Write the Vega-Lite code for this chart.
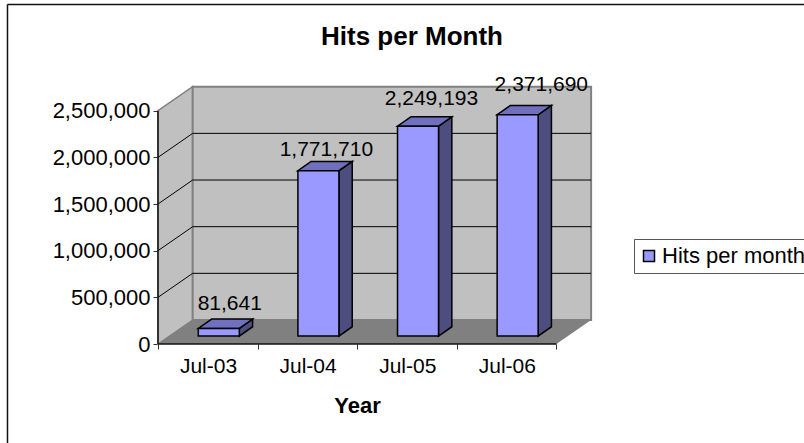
{
"$schema":"https://vega.github.io/schema/vega-lite/v6.json",
"width":434,"height":257,
"autosize":{"type":"none"},
"padding":{"left":158,"top":87,"right":212,"bottom":99},
"background":"white",
"title":{"text":"Hits per Month","anchor":"middle","frame":"group","dx":37,"offset":-46,"fontSize":26,"font":"Liberation Sans","fontWeight":"bold","color":"black"},
"config":{"view":{"stroke":null},"font":"Liberation Sans"},
"datasets":{
"bars":[
{"month":"Jul-03","hits":81641,"series":"Hits per month"},
{"month":"Jul-04","hits":1771710,"series":"Hits per month"},
{"month":"Jul-05","hits":2249193,"series":"Hits per month"},
{"month":"Jul-06","hits":2371690,"series":"Hits per month"}],
"levels":[{"level":500000},{"level":1000000},{"level":1500000},{"level":2000000}],
"wallEnds":[{"t":0},{"t":1}]
},
"layer":[
{"data":{"name":"wallEnds"},"transform":[{"calculate":"datum.t*0.348","as":"x"},{"calculate":"datum.t*257180","as":"y0"},{"calculate":"2500000+datum.t*257180","as":"y1"}],
"mark":{"type":"area","fill":"#C0C0C0","stroke":"#808080","strokeWidth":1.5,"orient":"vertical"},
"encoding":{"x":{"field":"x","type":"quantitative","scale":{"domain":[0,4.357],"nice":false,"zero":false}, 
"axis":{"values":[0,1,2,3,4],"title":"Year","grid":false,"domain":false,"tickColor":"#333333","tickSize":5,"tickWidth":1,"labelExpr":"['Jul-03','Jul-04','Jul-05','Jul-06',''][datum.value]","labelOffset":50,"labelFontSize":21,"labelColor":"black","labelFont":"Liberation Sans","labelPadding":6,"labelOverlap":false,"labelFlush":false,"labelBound":false,"labelAngle":0,"titleFontSize":22,"titleFont":"Liberation Sans","titleFontWeight":"bold","titleColor":"black","titleX":199,"titleY":68,"titleBaseline":"alphabetic"}},
"y":{"field":"y0","type":"quantitative","stack":null,"scale":{"domain":[0,2754000],"nice":false,"zero":false},
"axis":{"values":[0,500000,1000000,1500000,2000000,2500000],"format":",d","title":null,"grid":false,"domain":false,"tickColor":"#333333","tickSize":5,"tickWidth":1,"labelFontSize":22,"labelColor":"black","labelFont":"Liberation Sans","labelPadding":3,"labelOverlap":false,"labelFlush":false,"labelBound":false}},
"y2":{"field":"y1"}}},
{"data":{"values":[{"a":0.348,"b":4.348,"c":257180,"d":2757180}]},
"mark":{"type":"rect","fill":"#C0C0C0","stroke":"#808080","strokeWidth":2},
"encoding":{"x":{"field":"a","type":"quantitative","scale":{"domain":[0,4.357],"nice":false,"zero":false}},"x2":{"field":"b"},
"y":{"field":"c","type":"quantitative","scale":{"domain":[0,2754000],"nice":false,"zero":false}},"y2":{"field":"d"}}},
{"data":{"name":"wallEnds"},"transform":[{"calculate":"datum.t*257180","as":"y"},{"calculate":"datum.t*0.348","as":"x0"},{"calculate":"4+datum.t*0.348","as":"x1"}],
"mark":{"type":"area","fill":"#808080","orient":"horizontal"},
"encoding":{"y":{"field":"y","type":"quantitative","stack":null,"scale":{"domain":[0,2754000],"nice":false,"zero":false}},
"x":{"field":"x0","type":"quantitative","scale":{"domain":[0,4.357],"nice":false,"zero":false}},"x2":{"field":"x1"}}},
{"data":{"name":"levels"},"transform":[{"calculate":"datum.level+257180","as":"back"},{"calculate":"0.348","as":"a"},{"calculate":"4.348","as":"b"}],
"mark":{"type":"rule","color":"#000000","strokeWidth":1},
"encoding":{"y":{"field":"back","type":"quantitative","scale":{"domain":[0,2754000],"nice":false,"zero":false}},
"x":{"field":"a","type":"quantitative","scale":{"domain":[0,4.357],"nice":false,"zero":false}},"x2":{"field":"b"}}},
{"data":{"name":"levels"},"transform":[{"calculate":"datum.level+257180","as":"back"},{"calculate":"0","as":"a"},{"calculate":"0.348","as":"b"}],
"mark":{"type":"rule","color":"#000000","strokeWidth":1},
"encoding":{"y":{"field":"level","type":"quantitative","scale":{"domain":[0,2754000],"nice":false,"zero":false}},"y2":{"field":"back"},
"x":{"field":"a","type":"quantitative","scale":{"domain":[0,4.357],"nice":false,"zero":false}},"x2":{"field":"b"}}},
{"data":{"values":[{"a":0,"b":0,"c":0,"d":2500000},{"a":0,"b":4,"c":0,"d":0},{"a":-1.511,"b":6.49,"c":3638000,"d":3638000},{"a":-1.511,"b":-1.511,"c":3638000,"d":-1061000}]},
"mark":{"type":"rule","color":"#111111","strokeWidth":1.5},
"encoding":{"x":{"field":"a","type":"quantitative","scale":{"domain":[0,4.357],"nice":false,"zero":false}},"x2":{"field":"b"},
"y":{"field":"c","type":"quantitative","scale":{"domain":[0,2754000],"nice":false,"zero":false}},"y2":{"field":"d"}}},
{"data":{"name":"bars"},"transform":[{"calculate":"indexof(['Jul-03','Jul-04','Jul-05','Jul-06'],datum.month)","as":"i"},{"calculate":"[0,1]","as":"t"},{"flatten":["t"]},
{"calculate":"datum.i+0.8163+datum.t*0.1335","as":"x"},{"calculate":"85000+datum.t*100000","as":"y0"},{"calculate":"datum.hits+85000+datum.t*100000","as":"y1"}],
"mark":{"type":"area","fill":"#4D4D80","stroke":"#000000","strokeWidth":1.5,"orient":"vertical"},
"encoding":{"detail":{"field":"month"},"x":{"field":"x","type":"quantitative","scale":{"domain":[0,4.357],"nice":false,"zero":false}},
"y":{"field":"y0","type":"quantitative","stack":null,"scale":{"domain":[0,2754000],"nice":false,"zero":false}},"y2":{"field":"y1"}}},
{"data":{"name":"bars"},"transform":[{"calculate":"indexof(['Jul-03','Jul-04','Jul-05','Jul-06'],datum.month)","as":"i"},{"calculate":"[0,1]","as":"t"},{"flatten":["t"]},
{"calculate":"datum.i+0.4046+datum.t*0.1335","as":"x0"},{"calculate":"datum.i+0.8163+datum.t*0.1335","as":"x1"},{"calculate":"datum.hits+85000+datum.t*100000","as":"y"}],
"mark":{"type":"area","fill":"#7070BF","stroke":"#000000","strokeWidth":1.5,"orient":"horizontal"},
"encoding":{"detail":{"field":"month"},"y":{"field":"y","type":"quantitative","stack":null,"scale":{"domain":[0,2754000],"nice":false,"zero":false}},
"x":{"field":"x0","type":"quantitative","scale":{"domain":[0,4.357],"nice":false,"zero":false}},"x2":{"field":"x1"}}},
{"data":{"name":"bars"},"transform":[{"calculate":"indexof(['Jul-03','Jul-04','Jul-05','Jul-06'],datum.month)","as":"i"},
{"calculate":"datum.i+0.4046","as":"x0"},{"calculate":"datum.i+0.8163","as":"x1"},{"calculate":"85000","as":"y0"},{"calculate":"datum.hits+85000","as":"y1"}],
"mark":{"type":"rect","stroke":"#000000","strokeWidth":1.5},
"encoding":{"x":{"field":"x0","type":"quantitative","scale":{"domain":[0,4.357],"nice":false,"zero":false}},"x2":{"field":"x1"},
"y":{"field":"y0","type":"quantitative","scale":{"domain":[0,2754000],"nice":false,"zero":false}},"y2":{"field":"y1"},
"color":{"field":"series","type":"nominal","scale":{"domain":["Hits per month"],"range":["#9999FF"]},
"legend":{"title":null,"orient":"none","legendX":476,"legendY":152,"fillColor":"white","strokeColor":"#555555","symbolType":"square","symbolSize":121,"symbolStrokeColor":"#000000","symbolStrokeWidth":1.5,"symbolOpacity":1,"labelFontSize":22,"labelFont":"Liberation Sans","labelColor":"black","padding":4,"clipHeight":26,"labelLimit":300,"labelOffset":2}}}},
{"data":{"name":"bars"},"transform":[{"calculate":"indexof(['Jul-03','Jul-04','Jul-05','Jul-06'],datum.month)","as":"i"},
{"calculate":"datum.i+0.4046+0.2058+[0.11,0.08,0.135,0.238][datum.i]","as":"lx"},{"calculate":"datum.hits+85000+[258000,226000,290000,320000][datum.i]","as":"ly"}],
"mark":{"type":"text","fontSize":21,"font":"Liberation Sans","color":"black","align":"center","baseline":"middle"},
"encoding":{"x":{"field":"lx","type":"quantitative","scale":{"domain":[0,4.357],"nice":false,"zero":false}},
"y":{"field":"ly","type":"quantitative","scale":{"domain":[0,2754000],"nice":false,"zero":false}},
"text":{"field":"hits","type":"quantitative","format":",d"}}}
]
}
